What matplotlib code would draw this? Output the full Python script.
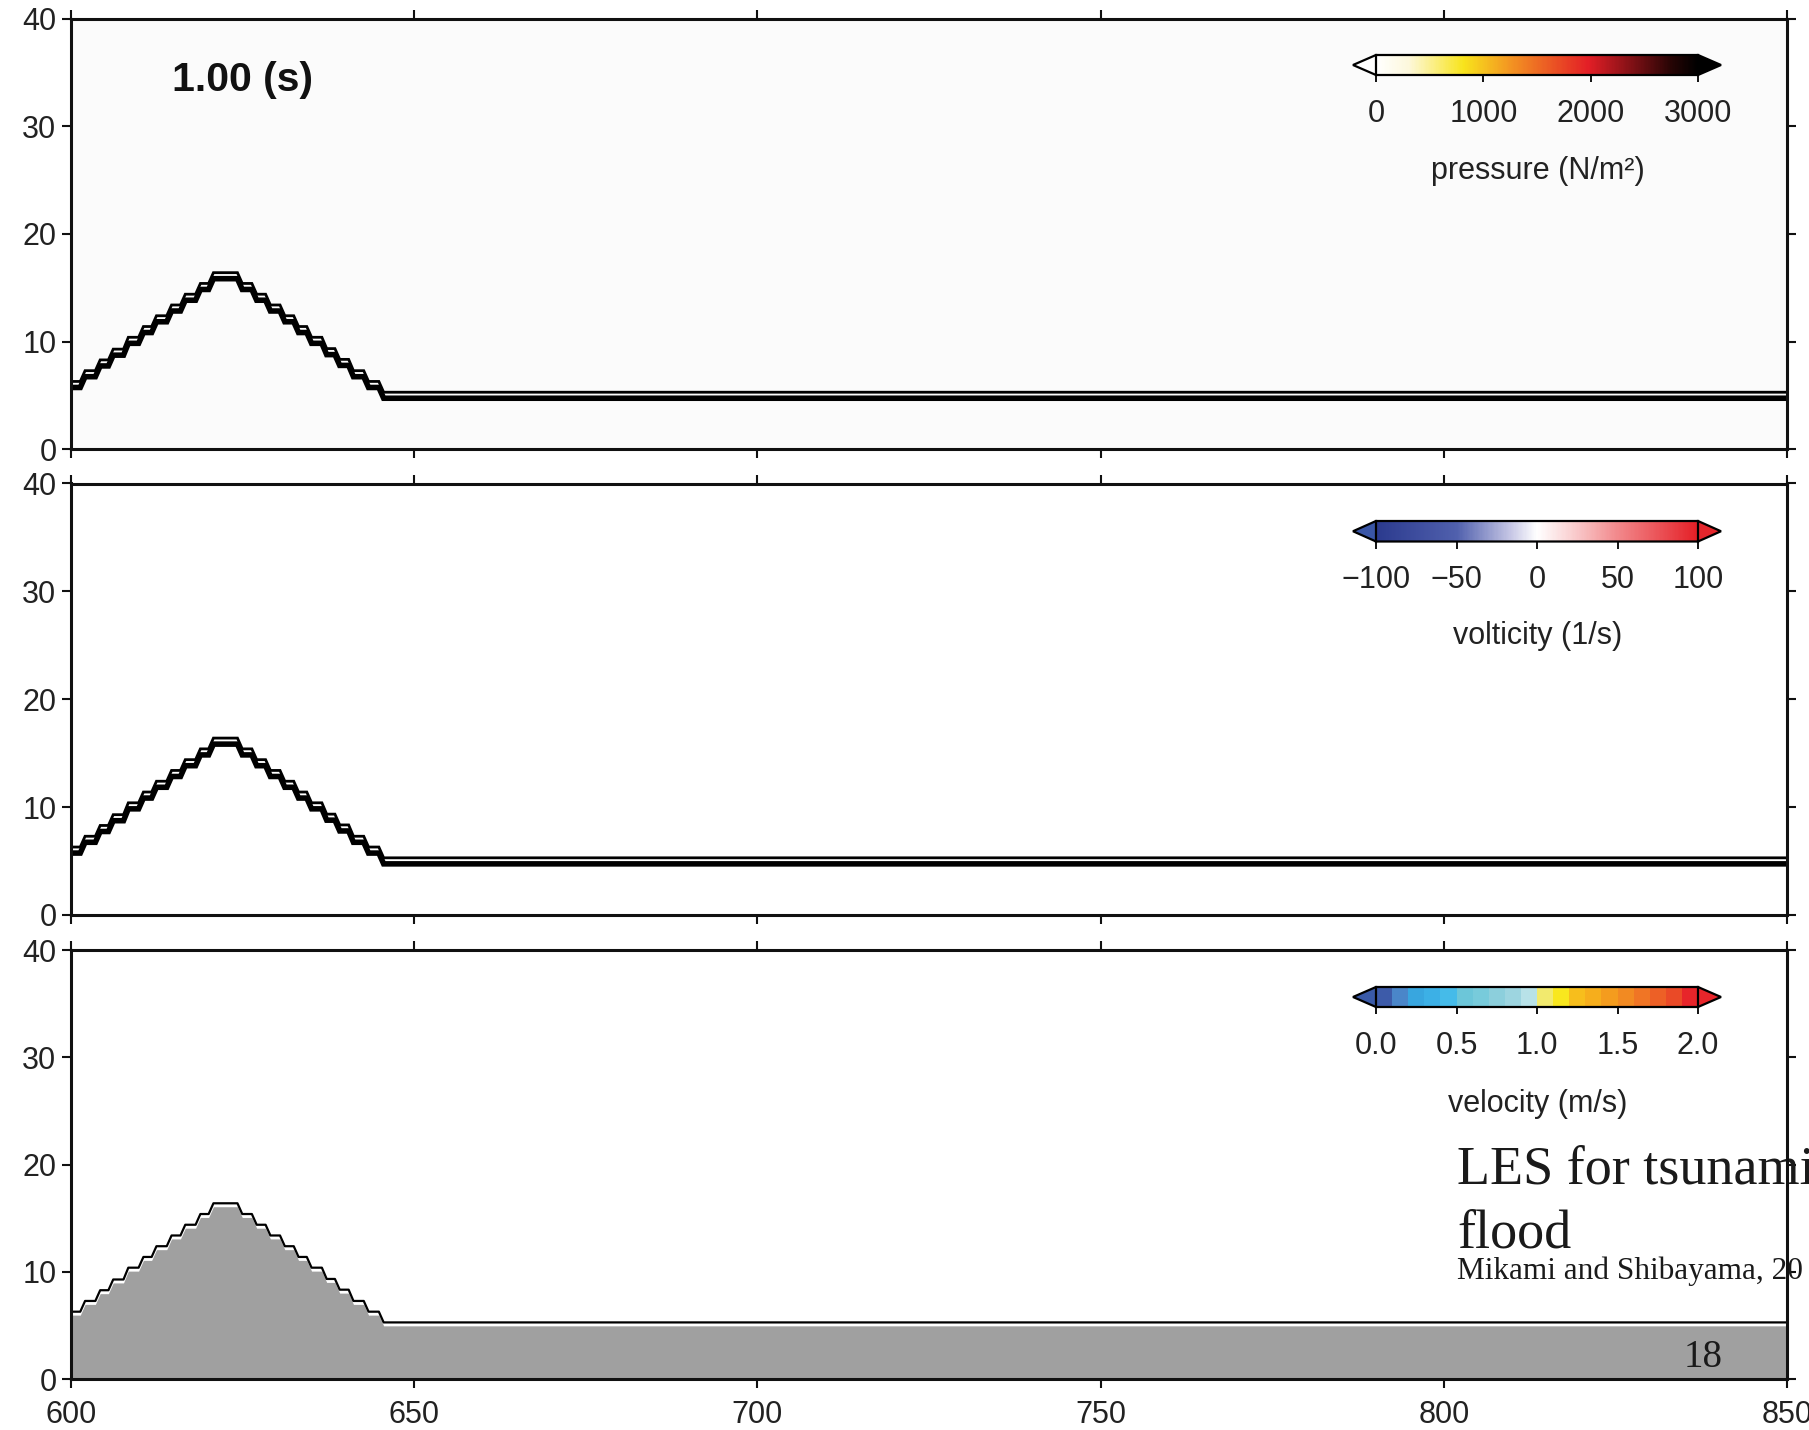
import numpy as np
import matplotlib
matplotlib.use('Agg')
import matplotlib.pyplot as plt
from matplotlib.colors import LinearSegmentedColormap, ListedColormap, Normalize, BoundaryNorm
from matplotlib.cm import ScalarMappable

plt.rcParams['font.family'] = ['Liberation Sans', 'DejaVu Sans']

# ---------------- data ----------------
x_limits = [600, 850]
y_limits = [0, 40]
x_ticks = [600, 650, 700, 750, 800, 850]
y_ticks = [0, 10, 20, 30, 40]

# stepped terrain (dune) profile: step edges (m) and level of each step (m)
step_edges = [600, 601.7, 603.9, 605.8, 608.0, 610.2, 612.1, 614.3, 616.3, 618.5, 620.4,
              624.6, 626.7, 628.7, 630.8, 632.8, 634.7, 636.9, 638.8, 640.8, 643.0, 645.2, 850]
step_levels = [6.3, 7.3, 8.3, 9.3, 10.4, 11.4, 12.4, 13.4, 14.4, 15.4, 16.4,
               15.4, 14.4, 13.4, 12.4, 11.4, 10.4, 9.35, 8.35, 7.3, 6.3, 5.3]

time_label = "1.00 (s)"

pressure_ticks = [0, 1000, 2000, 3000]
pressure_label = "pressure (N/m²)"
vorticity_ticks = [-100, -50, 0, 50, 100]
vorticity_label = "volticity (1/s)"
velocity_ticks = [0.0, 0.5, 1.0, 1.5, 2.0]
velocity_label = "velocity (m/s)"
velocity_bounds = [0.0, 0.1, 0.2, 0.3, 0.4, 0.5, 0.6, 0.7, 0.8, 0.9, 1.0,
                   1.1, 1.2, 1.3, 1.4, 1.5, 1.6, 1.7, 1.8, 1.9, 2.0]
velocity_colors = ['#3d5ba9', '#4a86c9', '#38a6df', '#3cb0e6', '#45bbe9',
                   '#6cc6d9', '#78cbdb', '#8ccfdc', '#9dd5e0', '#b8e2e8',
                   '#f2ea6e', '#f9e71e', '#f7be1c', '#f6ae1c', '#f49c1e',
                   '#f28a22', '#f07525', '#ed6026', '#ea4a27', '#e7252a']

title_text = "LES for tsunami"
title_text2 = "flood"
credit_text = "Mikami and Shibayama, 20"
page_number = "18"

# ---------------- figure ----------------
W, H = 1809, 1430
fig = plt.figure(figsize=(W / 100, H / 100), dpi=100)
fig.patch.set_facecolor('white')


def fx(px):
    return px / W


def fy(py):
    return 1 - py / H


left, right = 71, 1787
panels = [(18.5, 449.3), (483.5, 915), (950, 1379.3)]
axes = []
for top, bot in panels:
    ax = fig.add_axes([fx(left), fy(bot), fx(right - left), (bot - top) / H])
    axes.append(ax)


def stair(edges, levels, c=0.35):
    xs = [edges[0]]
    ys = [levels[0]]
    for i in range(1, len(levels)):
        xs += [edges[i] - c, edges[i] + c]
        ys += [levels[i - 1], levels[i]]
    xs.append(edges[-1])
    ys.append(levels[-1])
    return np.array(xs), np.array(ys)


tx, ty = stair(step_edges, step_levels)

FS = 22
for i, ax in enumerate(axes):
    ax.set_xlim(*x_limits)
    ax.set_ylim(*y_limits)
    ax.set_xticks(x_ticks)
    ax.set_yticks(y_ticks)
    ax.tick_params(direction='out', length=6.5, width=1.5, top=True, right=True,
                   labelsize=FS, labelcolor='#222222', color='#111111')
    ax.tick_params(axis='y', pad=4)
    ax.tick_params(axis='x', pad=8.5)
    for s in ax.spines.values():
        s.set_linewidth(2.2)
        s.set_color('#111111')
    if i < 2:
        ax.tick_params(labelbottom=False)
        ax.plot(tx, ty, color='black', lw=2.0, zorder=2, solid_joinstyle='miter')
        ax.plot(tx, ty - 0.56, color='black', lw=4.0, zorder=2, solid_joinstyle='miter')
    else:
        ax.fill_between(tx, 0, ty - 0.32, color='#a0a0a0', lw=0, zorder=1)
        ax.plot(tx, ty, color='black', lw=1.6, zorder=2)

axes[0].set_facecolor('#fbfbfb')

axes[0].text(fx(242), fy(80), time_label, transform=fig.transFigure, fontsize=29.5,
             fontweight='bold', ha='center', va='center', color='#111111')

# ---------------- colorbars ----------------
pressure_cmap = LinearSegmentedColormap.from_list(
    'press', [(0.0, '#ffffff'), (0.1, '#fdf8dc'), (0.27, '#f8e41c'), (0.42, '#f39322'),
              (0.66, '#e31e26'), (0.8, '#7d1015'), (0.92, '#250404'), (1.0, '#000000')])
pressure_cmap.set_under('#ffffff')
pressure_cmap.set_over('#000000')

vort_cmap = LinearSegmentedColormap.from_list(
    'vort', [(0.0, '#2b3a8e'), (0.25, '#5060ad'), (0.42, '#c8c8e6'), (0.5, '#ffffff'),
             (0.6, '#fad4d5'), (0.75, '#f2898c'), (1.0, '#e41f26')])
vort_cmap.set_under('#3a56a6')
vort_cmap.set_over('#e4262c')

vel_cmap = ListedColormap(velocity_colors)
vel_cmap.set_under('#3a5aa8')
vel_cmap.set_over('#e8262b')

cb_specs = [
    (ScalarMappable(Normalize(0, 3000), pressure_cmap), pressure_ticks, None, 55, 75, pressure_label, 171.5),
    (ScalarMappable(Normalize(-100, 100), vort_cmap), vorticity_ticks, None, 521, 541.5, vorticity_label, 636.5),
    (ScalarMappable(BoundaryNorm(velocity_bounds, vel_cmap.N), vel_cmap), velocity_ticks,
     '%.1f', 987, 1007, velocity_label, 1104),
]
body_left, body_right = 1376, 1698
ext = 0.0714
tip_left = body_left - ext * (body_right - body_left)
tip_right = body_right + ext * (body_right - body_left)
for sm, ticks, fmt, ctop, cbot, label, ly in cb_specs:
    cax = fig.add_axes([fx(tip_left), fy(cbot), fx(tip_right - tip_left), (cbot - ctop) / H])
    cb = fig.colorbar(sm, cax=cax, orientation='horizontal', extend='both',
                      extendfrac=ext, ticks=ticks, format=fmt)
    cb.minorticks_off()
    cb.outline.set_linewidth(1.6)
    cb.outline.set_edgecolor('black')
    cax.tick_params(direction='out', length=5, width=1.3, labelsize=FS,
                    labelcolor='#222222', pad=12)
    vmin, vmax = ticks[0], ticks[-1]
    cax.axvline(vmin, color='black', lw=1.6, clip_on=False)
    cax.axvline(vmax, color='black', lw=1.6, clip_on=False)
    fig.text(fx(1538), fy(ly), label, fontsize=FS, ha='center', va='center', color='#222222')

# ---------------- overlay slide text ----------------
ax3 = axes[2]
serif = ['Liberation Serif', 'DejaVu Serif']
ax3.text(fx(1457), fy(1183), title_text, transform=fig.transFigure, fontsize=39,
         family=serif, ha='left', va='baseline', color='#1a1a1a', zorder=2.4, clip_on=False)
ax3.text(fx(1457), fy(1247), title_text2, transform=fig.transFigure, fontsize=39,
         family=serif, ha='left', va='baseline', color='#1a1a1a', zorder=2.4, clip_on=False)
ax3.text(fx(1457), fy(1279), credit_text, transform=fig.transFigure, fontsize=22.5,
         family=serif, ha='left', va='baseline', color='#1a1a1a', zorder=2.4, clip_on=False)
ax3.text(fx(1684), fy(1367), page_number, transform=fig.transFigure, fontsize=28,
         family=serif, ha='left', va='baseline', color='#1a1a1a', zorder=2.4, clip_on=False)

fig.savefig('out.png', dpi=100, facecolor='white')
